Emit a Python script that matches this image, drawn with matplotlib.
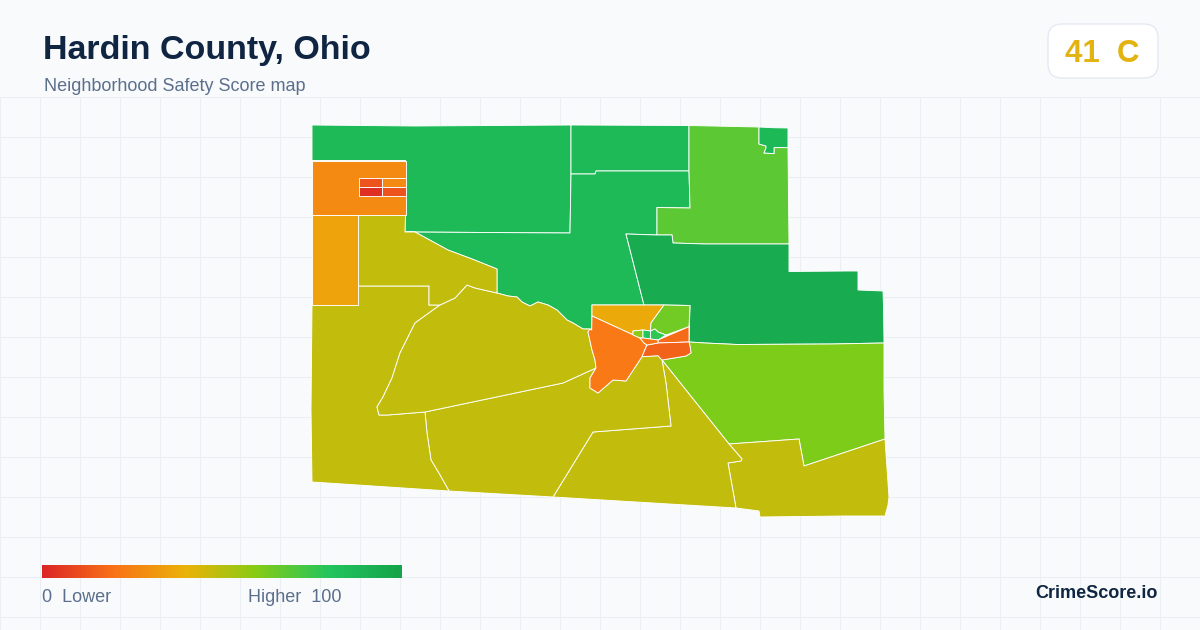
import numpy as np
import matplotlib

matplotlib.use("Agg")
import matplotlib.pyplot as plt
from matplotlib.collections import PolyCollection
from matplotlib.colors import LinearSegmentedColormap, Normalize
from matplotlib.patches import FancyBboxPatch

plt.rcParams["font.family"] = ["Liberation Sans", "DejaVu Sans"]

# tract outlines (same units as the axes below)
north_west = [(312, 125), (415, 126), (571, 125), (571, 174), (570, 233), (405, 232), (405.5, 160.5), (312, 160.5)]
north_mid = [(571, 125), (689, 125.5), (689, 171), (596, 171), (595, 174), (571, 174)]
north_center = [(571, 174), (595, 174), (596, 171), (689, 171), (690, 208), (657, 207.5), (657, 235), (626, 234),
                (644, 305), (592, 305), (591.7, 330), (590, 329), (583, 329), (573, 323), (567, 320), (557, 310),
                (548, 305), (538, 302), (530, 306), (522, 302), (517, 297), (508, 296), (497, 293), (497, 269),
                (472, 259), (448, 250), (415, 232), (405, 232), (570, 233)]
north_east = [(689, 125.5), (759, 127), (759, 144), (766, 146), (766, 148), (764, 153), (774, 153.6), (774, 147.6),
              (788, 147.6), (789, 244), (705, 244), (673, 243), (672, 235), (657, 235), (657, 207.5), (690, 208),
              (689, 171)]
corner_ne = [(759, 127), (773, 127.7), (788, 128), (788, 147.6), (774, 147.6), (774, 153.6), (764, 153), (766, 148),
             (766, 146), (759, 144)]
east_upper = [(626, 234), (657, 235), (672, 235), (673, 243), (705, 244), (789, 244), (789, 271.5), (847, 271),
              (858, 271), (858, 290), (883, 291), (883.5, 306), (884, 343), (832, 344), (737, 344.5), (705, 343),
              (689, 342), (690, 305.5), (664, 305), (644, 305)]
east_lower = [(689, 342), (705, 343), (737, 344.5), (832, 344), (884, 343), (884, 390), (885, 439), (804, 466),
              (799, 439), (729, 444), (662, 360), (686, 356), (691, 353), (690, 346)]
south_east = [(729, 444), (799, 439), (804, 466), (885, 439), (889, 497), (888, 505), (885, 516), (845, 516),
              (760, 517), (759, 511), (736, 508), (728, 463), (741, 461), (742, 459)]
south_mid = [(662, 360), (729, 444), (742, 459), (741, 461), (728, 463), (736, 508), (553, 497), (593, 432),
             (671, 426), (666, 383)]
south_center = [(425, 412), (563, 383), (596, 368), (590, 378), (590, 388), (598, 393), (613, 380), (626, 381),
                (642, 356.7), (658, 355.7), (662, 360), (666, 383), (671, 426), (593, 432), (553, 497), (449, 491),
                (440, 475), (431, 460), (427, 433)]
south_west = [(312, 305), (358, 305), (358, 286), (429, 286), (429, 305), (440, 305), (415, 323), (400, 353),
              (392, 378), (383, 397), (377, 407), (379, 415), (388, 415), (425, 412), (427, 433), (431, 460),
              (440, 475), (449, 491), (312, 482), (311, 410)]
dome = [(467, 285), (475, 288), (497, 293), (508, 296), (517, 297), (522, 302), (530, 306), (538, 302), (548, 305),
        (557, 310), (567, 320), (573, 323), (583, 329), (590, 329), (588, 332), (592, 350), (595, 360), (596, 368),
        (563, 383), (425, 412), (388, 415), (379, 415), (377, 407), (383, 397), (392, 378), (400, 353), (415, 323),
        (440, 305), (455, 298)]
upper_west = [(358, 215), (405.5, 215), (405, 232), (415, 232), (448, 250), (472, 259), (497, 269), (497, 293),
              (475, 288), (467, 285), (455, 298), (440, 305), (429, 305), (429, 286), (358, 286)]
west_strip = [(312, 215), (358, 215), (358, 305), (312, 305)]
north_orange = [(312, 160.5), (405.5, 160.5), (405.5, 215), (312, 215)]
cell_a = [(358.7, 178), (382, 178), (382, 187.3), (358.7, 187.3)]
cell_b = [(382, 178), (405.5, 178), (405.5, 187.3), (382, 187.3)]
cell_c = [(358.7, 187.3), (382, 187.3), (382, 196.4), (358.7, 196.4)]
cell_d = [(382, 187.3), (405.5, 187.3), (405.5, 196.4), (382, 196.4)]
town_north = [(592, 305), (664, 305), (651, 323), (650.5, 331), (643, 330), (633, 331), (633, 335), (640, 338),
              (592, 316)]
town_ne = [(664, 305), (690, 305.5), (689, 326.7), (666, 335), (658, 332), (655, 329), (650.5, 331), (651, 323)]
town_west = [(592, 316), (640, 338), (644, 343), (646.7, 345), (642, 356.7), (626, 381), (613, 380), (598, 393),
             (590, 388), (590, 378), (596, 368), (595, 360), (592, 350), (588, 332), (590, 329), (591.7, 330)]
town_east = [(658, 340), (689, 326.7), (689, 342), (658, 343)]
town_south = [(647, 345), (658, 343), (689, 342), (690, 346), (691, 353), (686, 356), (662, 360), (658, 355.7),
              (642, 356.7)]
core_a = [(633, 331), (643, 330), (643, 338), (640, 338), (633, 335)]
core_b = [(643, 330), (650.5, 331), (650.5, 339), (643, 338)]
core_c = [(650.5, 331), (655, 329), (658, 332), (666, 335), (658, 340), (650.5, 339)]
core_d = [(640, 338), (643, 338), (650.5, 339), (658, 340), (658, 343), (647, 345), (644, 343)]

tract_rings = [
    north_west, north_mid, north_center, north_east, corner_ne, east_upper, east_lower, south_east, south_mid,
    south_center, south_west, dome, upper_west, west_strip, north_orange, cell_a, cell_b, cell_c, cell_d,
    town_north, town_ne, town_west, town_east, town_south, core_a, core_b, core_c, core_d,
]
tract_scores = [
    86, 86, 86, 68, 87, 95, 61, 48, 48,
    48, 48, 48, 48, 35, 27, 12, 27, 2, 12,
    37, 64, 22, 18, 16, 58, 80, 77, 21,
]

score_stops = [0, 20, 40, 60, 80, 100]
stop_colors = ["#dc2626", "#f97316", "#eab308", "#84cc16", "#22c55e", "#16a34a"]

title = "Hardin County, Ohio"
subtitle = "Neighborhood Safety Score map"
overall_score = "41  C"

BG = "#f8fafc"
GRID = "#e9eff3"
INK = "#0f2542"
MUTED = "#5b6f8c"

cmap = LinearSegmentedColormap.from_list("safety", [(s / 100, c) for s, c in zip(score_stops, stop_colors)])
norm = Normalize(0, 100)

fig = plt.figure(figsize=(12, 6.3), dpi=100, facecolor=BG)
ax = fig.add_axes([0, 0, 1, 1])
ax.set_axis_off()

ax.vlines(np.arange(0, 1201, 40), 97, 630, color=GRID, linewidth=0.75, zorder=1)
ax.hlines(np.arange(97, 630, 40), 0, 1200, color=GRID, linewidth=0.75, zorder=1)

tracts = PolyCollection(tract_rings, array=np.array(tract_scores, dtype=float), cmap=cmap, norm=norm,
                        edgecolors="white", linewidths=0.65, zorder=2)
ax.add_collection(tracts)

ax.text(43, 59, title, fontsize=24.48, fontweight="bold", color=INK, ha="left", va="baseline")
ax.text(44, 91, subtitle, fontsize=12.96, color=MUTED, ha="left", va="baseline")

badge = FancyBboxPatch((1062, 38), 82, 26, boxstyle="round,pad=14,rounding_size=14", facecolor="white",
                       edgecolor="#e2e8f0", linewidth=0.9, zorder=2)
ax.add_patch(badge)
ax.text(1102.5, 62, overall_score, fontsize=22.5, fontweight="bold", color="#e3b312", ha="center", va="baseline",
        zorder=3)

# legend ramp
ramp = np.linspace(0, 100, 360).reshape(1, -1)
ax.imshow(ramp, extent=(42, 402, 578, 565), cmap=cmap, norm=norm, aspect="auto", zorder=2)
ax.text(42, 602, "0  Lower", fontsize=12.96, color=MUTED, ha="left", va="baseline")
ax.text(342, 602, "Higher  100", fontsize=12.96, color=MUTED, ha="right", va="baseline")
ax.text(1158, 598, "CrimeScore.io", fontsize=13, fontweight="bold", color=INK, ha="right", va="baseline")

ax.set_xlim(0, 1200)
ax.set_ylim(630, 0)

fig.savefig("out.png", dpi=100, facecolor=BG)
plt.close(fig)
